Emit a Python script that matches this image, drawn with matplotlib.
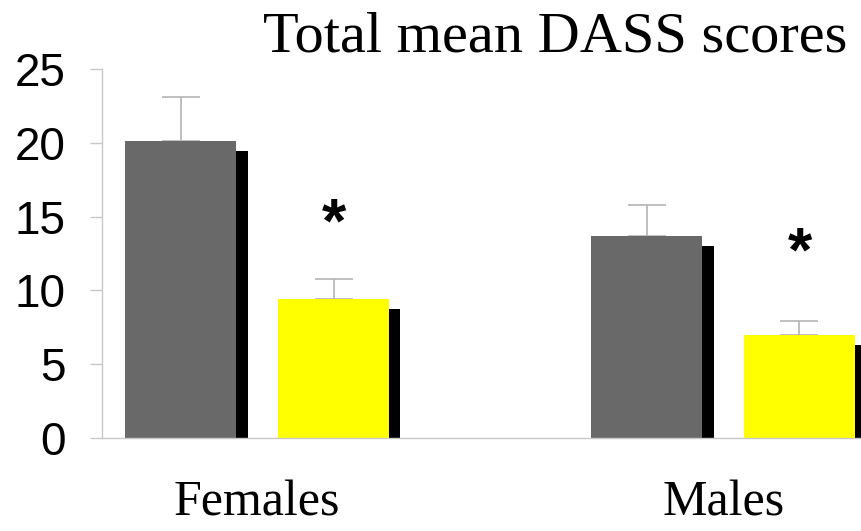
import numpy as np
import matplotlib
matplotlib.use("Agg")
from matplotlib import pyplot as plt

# Mean DASS scores
groups = ["Females", "Males"]
control_mean = [20.15, 13.7]
control_err = [2.95, 2.1]
treated_mean = [9.45, 7.0]
treated_err = [1.3, 0.9]
star_y = [14.4, 12.5]

fig = plt.figure(figsize=(8.61, 5.31), dpi=100)
ax = fig.add_axes([102/861, 93/531, 759/861, 369/531])

x = np.arange(len(groups))
off = 0.164
w = 0.238
sh_dx = 0.0245   # shadow offset to the right
sh_dy = 0.7      # shadow drop

gray = "#696969"
yellow = "#ffff00"
errc = "#b4b4b4"

for pos, vals, col in [(x - off, control_mean, gray), (x + off, treated_mean, yellow)]:
    ax.bar(pos + sh_dx, np.array(vals) - sh_dy, w, color="black", zorder=1)
    ax.bar(pos, vals, w, color=col, zorder=2)

ax.errorbar(x - off, control_mean, yerr=[np.zeros(2), control_err], fmt="none",
            ecolor=errc, elinewidth=1.2, capsize=14, capthick=1.2, zorder=1.5)
ax.errorbar(x + off, treated_mean, yerr=[np.zeros(2), treated_err], fmt="none",
            ecolor=errc, elinewidth=1.2, capsize=14, capthick=1.2, zorder=1.5)

for xi, yi in zip(x + off, star_y):
    ax.text(xi, yi, "*", ha="center", va="center", fontsize=45, fontweight="bold",
            family="Liberation Sans")

ax.set_xlim(-0.333, 1.296)
ax.set_ylim(0, 25)
ax.set_yticks([0, 5, 10, 15, 20, 25])
ax.set_yticklabels(["0", "5", "10", "15", "20", "25"], family="Liberation Sans", fontsize=33)
ax.tick_params(axis="y", length=9, width=1, color="#c8c8c8", pad=17)
ax.set_xticks(x)
ax.set_xticklabels(groups, family="Liberation Serif", fontsize=36)
ax.tick_params(axis="x", length=0, pad=30)

for s in ["top", "right"]:
    ax.spines[s].set_visible(False)
for s in ["left", "bottom"]:
    ax.spines[s].set_color("#c8c8c8")
    ax.spines[s].set_linewidth(1)

fig.text(263/861, 1 - 52/531, "Total mean DASS scores", family="Liberation Serif",
         fontsize=42, ha="left", va="baseline")

fig.savefig("out.png", dpi=100)
